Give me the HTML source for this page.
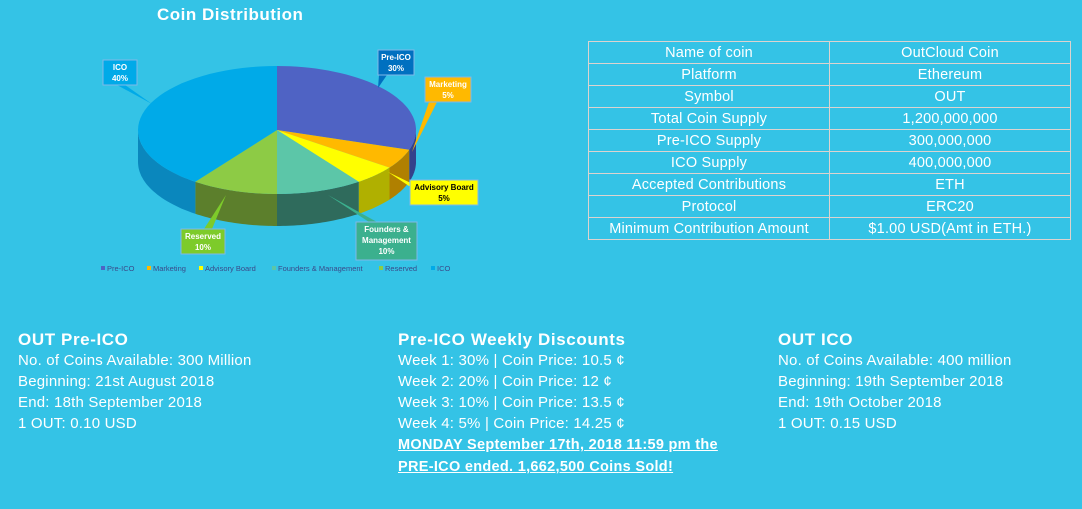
<!DOCTYPE html>
<html><head><meta charset="utf-8">
<style>
*{margin:0;padding:0;box-sizing:border-box}
body{width:1082px;height:509px;background:#34C3E6;font-family:"Liberation Sans",sans-serif;color:#fff;position:relative;overflow:hidden}
#title{position:absolute;left:157px;top:5px;font-weight:bold;font-size:17px;letter-spacing:0.5px}
table{position:absolute;left:588px;top:41px;width:483px;border-collapse:collapse;font-size:14.5px;letter-spacing:0.2px}
td{border:1px solid #dcd3cf;height:22px;text-align:center;width:50%;padding:0}
.col{position:absolute;top:330px;font-size:15px;line-height:21px;letter-spacing:0.2px}
.col h3{font-size:17px;font-weight:bold;line-height:20px;letter-spacing:0.6px}
.col a{color:#fff;font-weight:bold;text-decoration:underline;font-size:14.5px;letter-spacing:0.3px;line-height:22px}
</style></head><body>
<div id="title">Coin Distribution</div>
<svg id="pie" width="560" height="290" style="position:absolute;left:0;top:0" font-family="Liberation Sans, sans-serif"></svg>
<table>
<tr><td>Name of coin</td><td>OutCloud Coin</td></tr>
<tr><td>Platform</td><td>Ethereum</td></tr>
<tr><td>Symbol</td><td>OUT</td></tr>
<tr><td>Total Coin Supply</td><td>1,200,000,000</td></tr>
<tr><td>Pre-ICO Supply</td><td>300,000,000</td></tr>
<tr><td>ICO Supply</td><td>400,000,000</td></tr>
<tr><td>Accepted Contributions</td><td>ETH</td></tr>
<tr><td>Protocol</td><td>ERC20</td></tr>
<tr><td>Minimum Contribution Amount</td><td>$1.00 USD(Amt in ETH.)</td></tr>
</table>
<div class="col" style="left:18px">
<h3>OUT Pre-ICO</h3>
<div>No. of Coins Available: 300 Million</div>
<div>Beginning: 21st August 2018</div>
<div>End: 18th September 2018</div>
<div>1 OUT: 0.10 USD</div>
</div>
<div class="col" style="left:398px">
<h3>Pre-ICO Weekly Discounts</h3>
<div>Week 1: 30% | Coin Price: 10.5 ¢</div>
<div>Week 2: 20% | Coin Price: 12 ¢</div>
<div>Week 3: 10% | Coin Price: 13.5 ¢</div>
<div>Week 4: 5% | Coin Price: 14.25 ¢</div>
<a>MONDAY September 17th, 2018 11:59 pm the<br>PRE-ICO ended. 1,662,500 Coins Sold!</a>
</div>
<div class="col" style="left:778px">
<h3>OUT ICO</h3>
<div>No. of Coins Available: 400 million</div>
<div>Beginning: 19th September 2018</div>
<div>End: 19th October 2018</div>
<div>1 OUT: 0.15 USD</div>
</div>
<script>
const categories=["Pre-ICO","Marketing","Advisory Board","Founders & Management","Reserved","ICO"];
const values=[30,5,5,10,10,40];
const colors=["#4F63C4","#FFB900","#FFFF00","#5CC6A8","#8DCB45","#00AAE8"];
const sideColors=["#34418a","#b08000","#b0b000","#2f6b5c","#5c7f2c","#0a87bd"];
const svg=document.getElementById('pie');
const NS="http://www.w3.org/2000/svg";
const cx=277,cy=130,rx=139,ry=64,depth=32;
const total=values.reduce((a,b)=>a+b,0);
function pt(t,dy){return [cx+rx*Math.sin(t),cy-ry*Math.cos(t)+(dy||0)];}
function mk(tag,attrs){const e=document.createElementNS(NS,tag);for(const k in attrs)e.setAttribute(k,attrs[k]);svg.appendChild(e);return e;}
let acc=0;const segs=[];
values.forEach((v,i)=>{const t0=acc/total*2*Math.PI;acc+=v;const t1=acc/total*2*Math.PI;segs.push([t0,t1]);});
segs.forEach(([t0,t1],i)=>{
  const a=Math.max(t0,Math.PI/2),b=Math.min(t1,3*Math.PI/2);
  if(b<=a)return;
  let d="";const n=30;
  for(let k=0;k<=n;k++){const p=pt(a+(b-a)*k/n);d+=(k?"L":"M")+p[0].toFixed(1)+","+p[1].toFixed(1);}
  for(let k=n;k>=0;k--){const p=pt(a+(b-a)*k/n,depth);d+="L"+p[0].toFixed(1)+","+p[1].toFixed(1);}
  const e=mk('path',{d:d+"Z",fill:sideColors[i]});
  
  
});
segs.forEach(([t0,t1],i)=>{
  let d="M"+cx+","+cy;const n=40;
  for(let k=0;k<=n;k++){const p=pt(t0+(t1-t0)*k/n);d+="L"+p[0].toFixed(1)+","+p[1].toFixed(1);}
  const e=mk('path',{d:d+"Z",fill:colors[i]});
  
  
});
const boxes=[
 {i:0,x:378,y:50,w:36,h:25,bg:"#0070C0",fg:"#fff",lines:["Pre-ICO","30%"],lx:382,ly:75,px:378,py:88},
 {i:1,x:425,y:77,w:46,h:25,bg:"#FFB900",fg:"#fff",lines:["Marketing","5%"],lx:432,ly:102,px:412,py:152},
 {i:2,x:410,y:180,w:68,h:25,bg:"#FFFF00",fg:"#000",lines:["Advisory Board","5%"],lx:412,ly:186,px:388,py:172},
 {i:3,x:356,y:222,w:61,h:38,bg:"#3BB08E",fg:"#fff",lines:["Founders &","Management","10%"],lx:372,ly:222,px:328,py:195},
 {i:4,x:181,y:229,w:44,h:25,bg:"#7DCB2A",fg:"#fff",lines:["Reserved","10%"],lx:207,ly:229,px:226,py:195},
 {i:5,x:103,y:60,w:34,h:25,bg:"#00AAE8",fg:"#fff",lines:["ICO","40%"],lx:120,ly:85,px:152,py:104}
];
boxes.forEach(b=>{
  const l=mk('polygon',{points:`${b.lx-3},${b.ly} ${b.lx+5},${b.ly} ${b.px},${b.py}`,fill:b.bg});
  
  
  const r=mk('rect',{x:b.x,y:b.y,width:b.w,height:b.h,fill:b.bg,stroke:"#7fb8e8","stroke-width":1});
  
  
  b.lines.forEach((s,k)=>{
    const t=mk('text',{x:b.x+b.w/2,y:b.y+10+k*11,"text-anchor":"middle","font-size":8,"font-weight":"bold",fill:b.fg});
    t.textContent=s;
    
    
  });
});
const legX=[101,147,199,272,379,431];
categories.forEach((c,i)=>{
  const r=mk('rect',{x:legX[i],y:266,width:4,height:4,fill:colors[i]});
  
  
  const t=mk('text',{x:legX[i]+6,y:271,"font-size":7.5,fill:"#3a4a8a"});
  t.textContent=c;
  
  
});
</script>
</body></html>
